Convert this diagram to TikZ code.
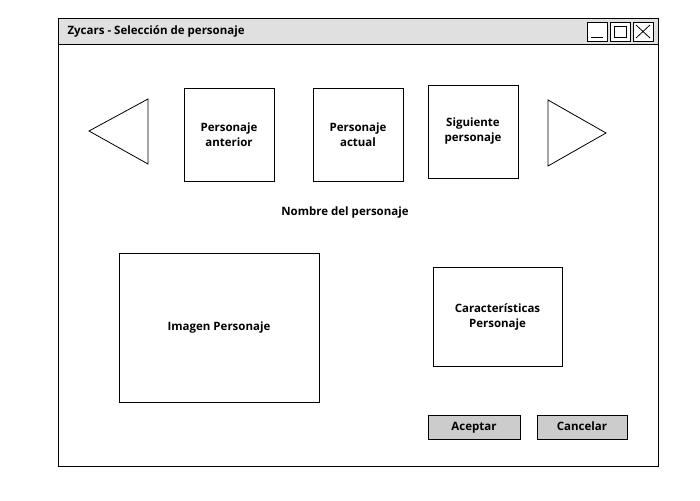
\documentclass[tikz,border=0pt]{standalone}
\usepackage{fontspec}
\setmainfont{Open Sans}
\tikzset{
	caja/.style={draw, thick, fill=white, align=center, font=\bfseries\fontsize{11.5}{15}\selectfont, inner sep=0pt},
	boton/.style={draw, thick, fill=black!20, font=\bfseries\fontsize{11.5}{15}\selectfont, inner sep=0pt, text height=1.6ex, text depth=.45ex},
}
\begin{document}
\begin{tikzpicture}[x=1pt,y=-1pt]
			\useasboundingbox (0,0) rectangle (700,500);
			% ventana
			\draw[thick, fill=white] (58,18) rectangle (658,466);
			\draw[thick, fill=black!12] (58,18) rectangle (658,44);
			\node[anchor=west, font=\bfseries\fontsize{11.5}{15}\selectfont] (titulo) at (64,31) {Zycars - Selección de personaje};
			\draw[thick, fill=white] (587,22) rectangle (607,41);
			\draw[thick] (591,37) -- (603,37);
			\draw[thick, fill=white] (610,22) rectangle (630,41);
			\draw[thick] (614,26) rectangle (626,37);
			\draw[thick, fill=white] (633,22) rectangle (653,41);
			\draw[thick] (636,25) -- (650,38);
			\draw[thick] (650,25) -- (636,38);
			% flechas
			\coordinate (ia) at (89,131);
			\coordinate (ib) at (148,99);
			\coordinate (ic) at (148,164);
			\draw[thick] (ia) -- (ib) -- (ic) -- cycle;
			\coordinate (da) at (548,100);
			\coordinate (db) at (548,166);
			\coordinate (dc) at (606,133);
			\draw[thick] (da) -- (db) -- (dc) -- cycle;
			% personajes
			\node[caja, minimum width=90, minimum height=93] (anterior) at (229,134.5) {Personaje\\anterior};
			\node[caja, minimum width=90, minimum height=93] (actual) at (358,134.5) {Personaje\\actual};
			\node[caja, minimum width=90, minimum height=93] (siguiente) at (473,131.5) {Siguiente\\personaje};
			\node[font=\bfseries\fontsize{11.5}{15}\selectfont] (nombre) at (345,213) {Nombre del personaje};
			\node[caja, minimum width=200, minimum height=149] (imagen) at (219,327.5) {Imagen Personaje};
			\node[caja, minimum width=129, minimum height=99] (caracteristicas) at (497.5,316.5) {Características\\Personaje};
			% botones
			\node[boton, minimum width=92, minimum height=24] (aceptar) at (474,427) {Aceptar};
			\node[boton, minimum width=90, minimum height=24] (cancelar) at (582,427) {Cancelar};
		\end{tikzpicture}
\end{document}
